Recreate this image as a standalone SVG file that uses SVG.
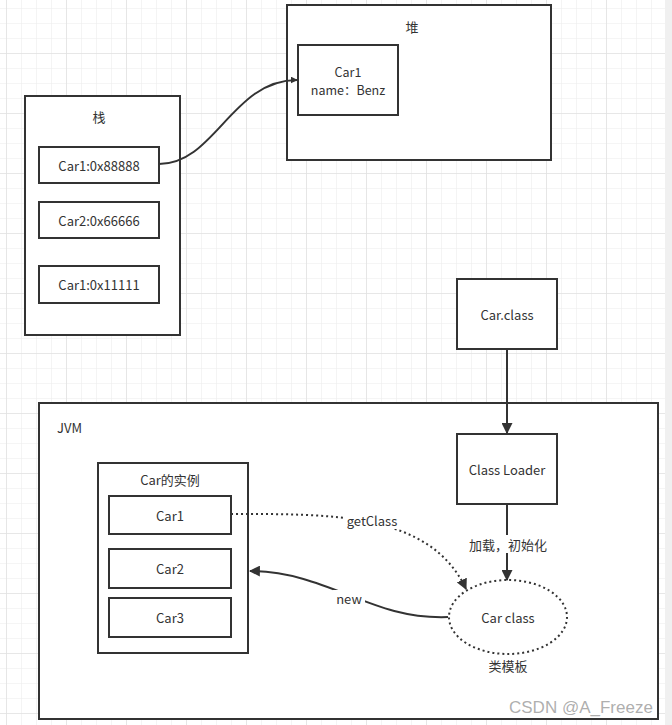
<svg xmlns="http://www.w3.org/2000/svg" width="672" height="725" viewBox="0 0 672 725">
<style>
.box{fill:#fff;stroke:#333;stroke-width:2}
.t{font-family:"Noto Sans CJK SC","Noto Sans",sans-serif;font-size:13px;fill:#333;text-anchor:middle;dominant-baseline:central}
.ln{fill:none;stroke:#333;stroke-width:2}
.dot{fill:none;stroke:#333;stroke-width:2;stroke-dasharray:2 3}
</style>
<defs>
<pattern id="minor" x="6" y="8" width="15" height="15" patternUnits="userSpaceOnUse">
<path d="M0 0H15M0 0V15" fill="none" stroke="#ececec" stroke-width="1.2"/>
</pattern>
<pattern id="major" x="6" y="-7" width="60" height="60" patternUnits="userSpaceOnUse">
<path d="M0 0H60M0 0V60" fill="none" stroke="#e2e2e2" stroke-width="1.5"/>
</pattern>
<marker id="arr" viewBox="0 0 10 10" refX="9" refY="5" markerWidth="7" markerHeight="7" markerUnits="userSpaceOnUse" orient="auto">
<path d="M0 0L10 5L0 10Z" fill="#333"/>
</marker>
<marker id="arrb" viewBox="0 0 10 10" refX="9" refY="5" markerWidth="11" markerHeight="11" markerUnits="userSpaceOnUse" orient="auto">
<path d="M0 0L10 5L0 10Z" fill="#333"/>
</marker>
</defs>
<rect width="672" height="725" fill="#fff"/>
<rect width="665" height="725" fill="url(#minor)"/>
<rect width="665" height="725" fill="url(#major)"/>
<rect x="665" y="0" width="7" height="725" fill="#f0f0f0"/>

<g id="stack">
<rect class="box" x="25" y="96" width="155" height="239"/>
<text class="t" x="99" y="116">栈</text>
</g>
<g id="s1"><rect class="box" x="39" y="147" width="120" height="36"/><text class="t" x="99" y="165">Car1:0x88888</text></g>
<g id="s2"><rect class="box" x="39" y="202" width="120" height="36"/><text class="t" x="99" y="220">Car2:0x66666</text></g>
<g id="s3"><rect class="box" x="39" y="266" width="120" height="37"/><text class="t" x="99" y="284">Car1:0x11111</text></g>

<g id="heap">
<rect class="box" x="287" y="5" width="264" height="155"/>
<text class="t" x="412" y="26">堆</text>
</g>
<g id="heapcar"><rect class="box" x="298" y="45" width="100" height="70"/>
<text class="t" x="348" y="71" style="font-size:12.5px">Car1</text><text class="t" x="348" y="89" style="font-size:12.5px">name：Benz</text></g>

<g id="carclassfile"><rect class="box" x="457" y="279" width="100" height="70"/><text class="t" x="507" y="314">Car.class</text></g>

<g id="jvm">
<rect class="box" x="39" y="403" width="619" height="316"/>
<text class="t" x="57" y="427" style="text-anchor:start">JVM</text>
</g>
<g id="loader"><rect class="box" x="457" y="434" width="100" height="70"/><text class="t" x="507" y="469">Class Loader</text></g>

<g id="instances">
<rect class="box" x="98" y="463" width="150" height="190"/>
<text class="t" x="170" y="479">Car的实例</text>
</g>
<g id="c1"><rect class="box" x="109" y="496" width="122" height="38"/><text class="t" x="170" y="515">Car1</text></g>
<g id="c2"><rect class="box" x="109" y="549" width="122" height="39"/><text class="t" x="170" y="568">Car2</text></g>
<g id="c3"><rect class="box" x="109" y="598" width="122" height="39"/><text class="t" x="170" y="617">Car3</text></g>

<g id="carclass">
<ellipse cx="508" cy="617" rx="59" ry="37" fill="#fff" stroke="#333" stroke-width="2" stroke-dasharray="2 3"/>
<text class="t" x="508" y="617">Car class</text>
<text class="t" x="508" y="665">类模板</text>
</g>

<g id="connectors">
<path class="ln" d="M159,164 C215,164 232,80 297,80" marker-end="url(#arr)"/>
<path class="ln" d="M507,349 V433" marker-end="url(#arrb)"/>
<path class="ln" d="M507,504 V580" marker-end="url(#arrb)"/>
<rect x="464" y="535" width="88" height="18" fill="#fff"/>
<text class="t" x="508" y="544">加载，初始化</text>
<path class="dot" d="M231,514 C330,514 430,512 466,589" marker-end="url(#arrb)"/>
<rect x="343" y="512" width="58" height="17" fill="#fff"/>
<text class="t" x="372" y="520">getClass</text>
<path class="ln" d="M448,617 C370,620 330,572 250,571" marker-end="url(#arrb)"/>
<rect x="333" y="590" width="32" height="16" fill="#fff"/>
<text class="t" x="349" y="598">new</text>
</g>
<text x="509" y="707" style="font-family:'Liberation Sans',sans-serif;font-size:17px;fill:#999;fill-opacity:0.8;dominant-baseline:central">CSDN @A_Freeze</text>
</svg>
